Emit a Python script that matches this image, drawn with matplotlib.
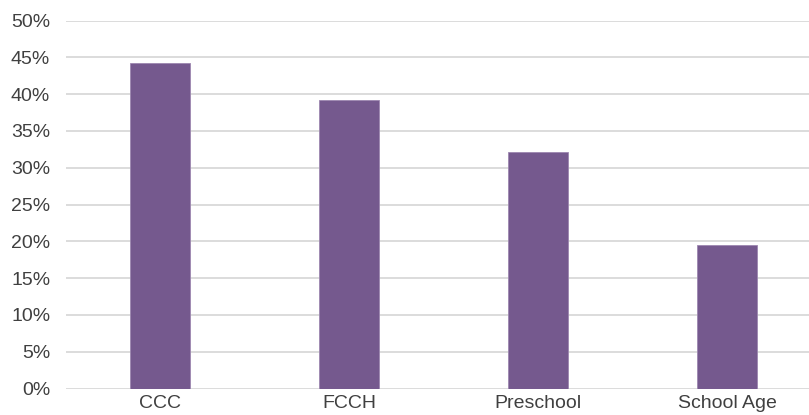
import matplotlib.pyplot as plt
from matplotlib.ticker import PercentFormatter

categories = ['CCC', 'FCCH', 'Preschool', 'School Age']
shares = [44.2, 39.2, 32.1, 19.5]
yticks = [0, 5, 10, 15, 20, 25, 30, 35, 40, 45, 50]

plt.rcParams['font.family'] = ['Liberation Sans', 'DejaVu Sans']

fig = plt.figure(figsize=(8.09, 4.15), dpi=100)
ax = fig.add_axes([65.5 / 809, 26.5 / 415, 1 - 65.5 / 809, 368 / 415])

x = range(len(categories))
ax.bar(x, shares, width=0.314, color='#75598e', edgecolor='#9d87b0', linewidth=0.6, zorder=3)

ax.set_xlim(-0.5, 3.434)
ax.set_ylim(0, 50)
ax.set_yticks(yticks)
ax.yaxis.set_major_formatter(PercentFormatter(decimals=0))
ax.set_xticks(list(x))
ax.set_xticklabels(categories)

ax.grid(axis='y', color='#d9d9d9', linewidth=1.3, zorder=0)
for s in ax.spines.values():
    s.set_visible(False)
ax.tick_params(axis='both', length=0, labelsize=14, colors='#404040')
ax.tick_params(axis='y', pad=11)
ax.tick_params(axis='x', pad=5)

fig.savefig('out.png', dpi=100)
